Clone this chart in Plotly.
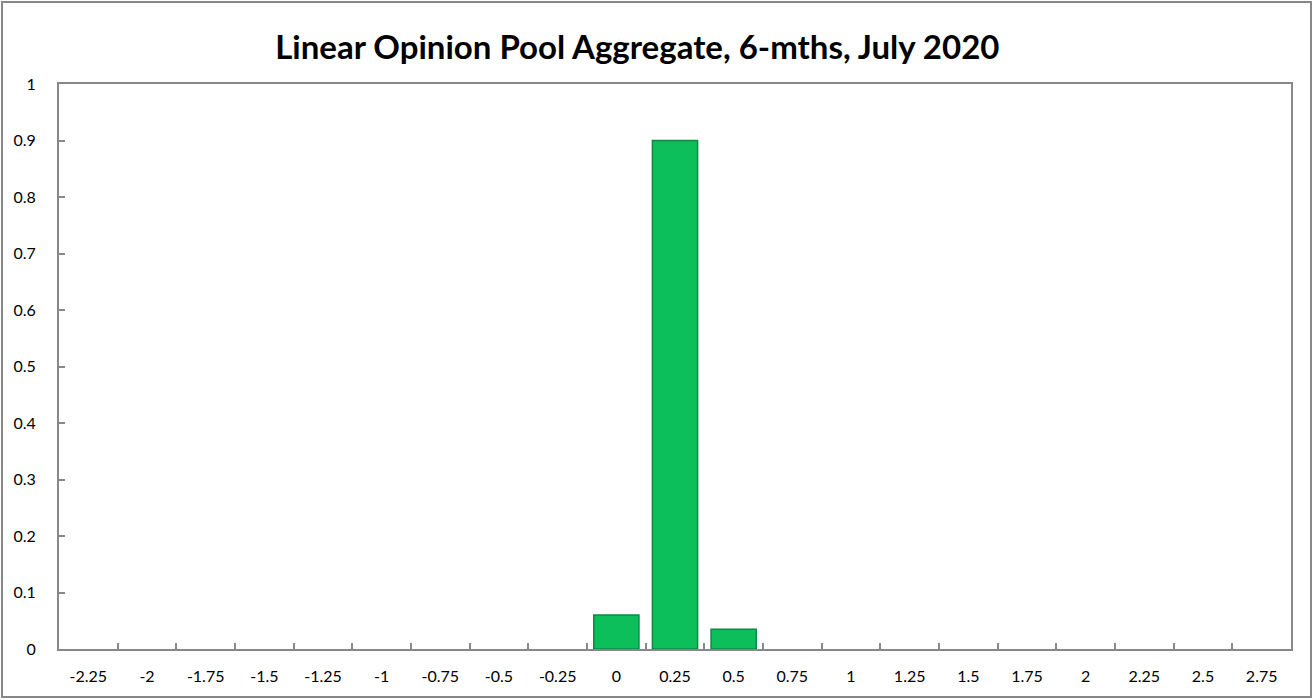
import plotly.graph_objects as go

categories = ["-2.25", "-2", "-1.75", "-1.5", "-1.25", "-1", "-0.75", "-0.5", "-0.25",
              "0", "0.25", "0.5", "0.75", "1", "1.25", "1.5", "1.75", "2", "2.25", "2.5", "2.75"]
values = [0, 0, 0, 0, 0, 0, 0, 0, 0,
          0.06, 0.9, 0.035, 0, 0, 0, 0, 0, 0, 0, 0, 0]
y_ticks = [0, 0.1, 0.2, 0.3, 0.4, 0.5, 0.6, 0.7, 0.8, 0.9, 1]
y_tick_labels = ["0", "0.1", "0.2", "0.3", "0.4", "0.5", "0.6", "0.7", "0.8", "0.9", "1"]

W, H = 1314, 700
L, R, T, B = 59, 23, 84, 51
pw, ph = W - L - R, H - T - B

fig = go.Figure()
fig.add_trace(go.Bar(
    x=categories, y=values,
    marker=dict(color="#0DBF5B",
                line=dict(color="#0A8A43", width=[1.5 if v > 0 else 0 for v in values])),
    hoverinfo="x+y",
))

def px_x(p):
    return (p - L) / pw

def px_y(p):
    return (H - B - p) / ph

fig.update_layout(
    width=W, height=H,
    margin=dict(l=L, r=R, t=T, b=B),
    paper_bgcolor="white", plot_bgcolor="white",
    bargap=0.23,
    showlegend=False,
    font=dict(family="Lato, 'Open Sans', sans-serif", size=16, color="black"),
    title=dict(text="<b>Linear Opinion Pool Aggregate, 6-mths, July 2020</b>",
               x=0.485, xanchor="center", y=1 - 47 / H, yanchor="middle",
               font=dict(family="Lato, 'Open Sans', sans-serif", size=33, color="black")),
    xaxis=dict(type="category", showline=True, linecolor="#888888", linewidth=2, mirror=True,
               ticks="inside", tickson="boundaries", ticklen=6, tickcolor="#888888", tickwidth=2,
               showgrid=False, zeroline=False, ticklabelstandoff=12,
               tickfont=dict(size=16)),
    yaxis=dict(range=[0, 1], tickvals=y_ticks, ticktext=y_tick_labels,
               showline=True, linecolor="#888888", linewidth=2, mirror=True,
               ticks="inside", ticklen=6, tickcolor="#888888", tickwidth=2,
               showgrid=False, zeroline=False, ticklabelstandoff=18,
               tickfont=dict(size=16)),
    shapes=[dict(type="rect", xref="paper", yref="paper",
                 x0=px_x(2), x1=px_x(1311), y0=px_y(697), y1=px_y(2),
                 line=dict(color="#888888", width=2), fillcolor="rgba(0,0,0,0)", layer="below")],
)

fig.write_html("out.html")
